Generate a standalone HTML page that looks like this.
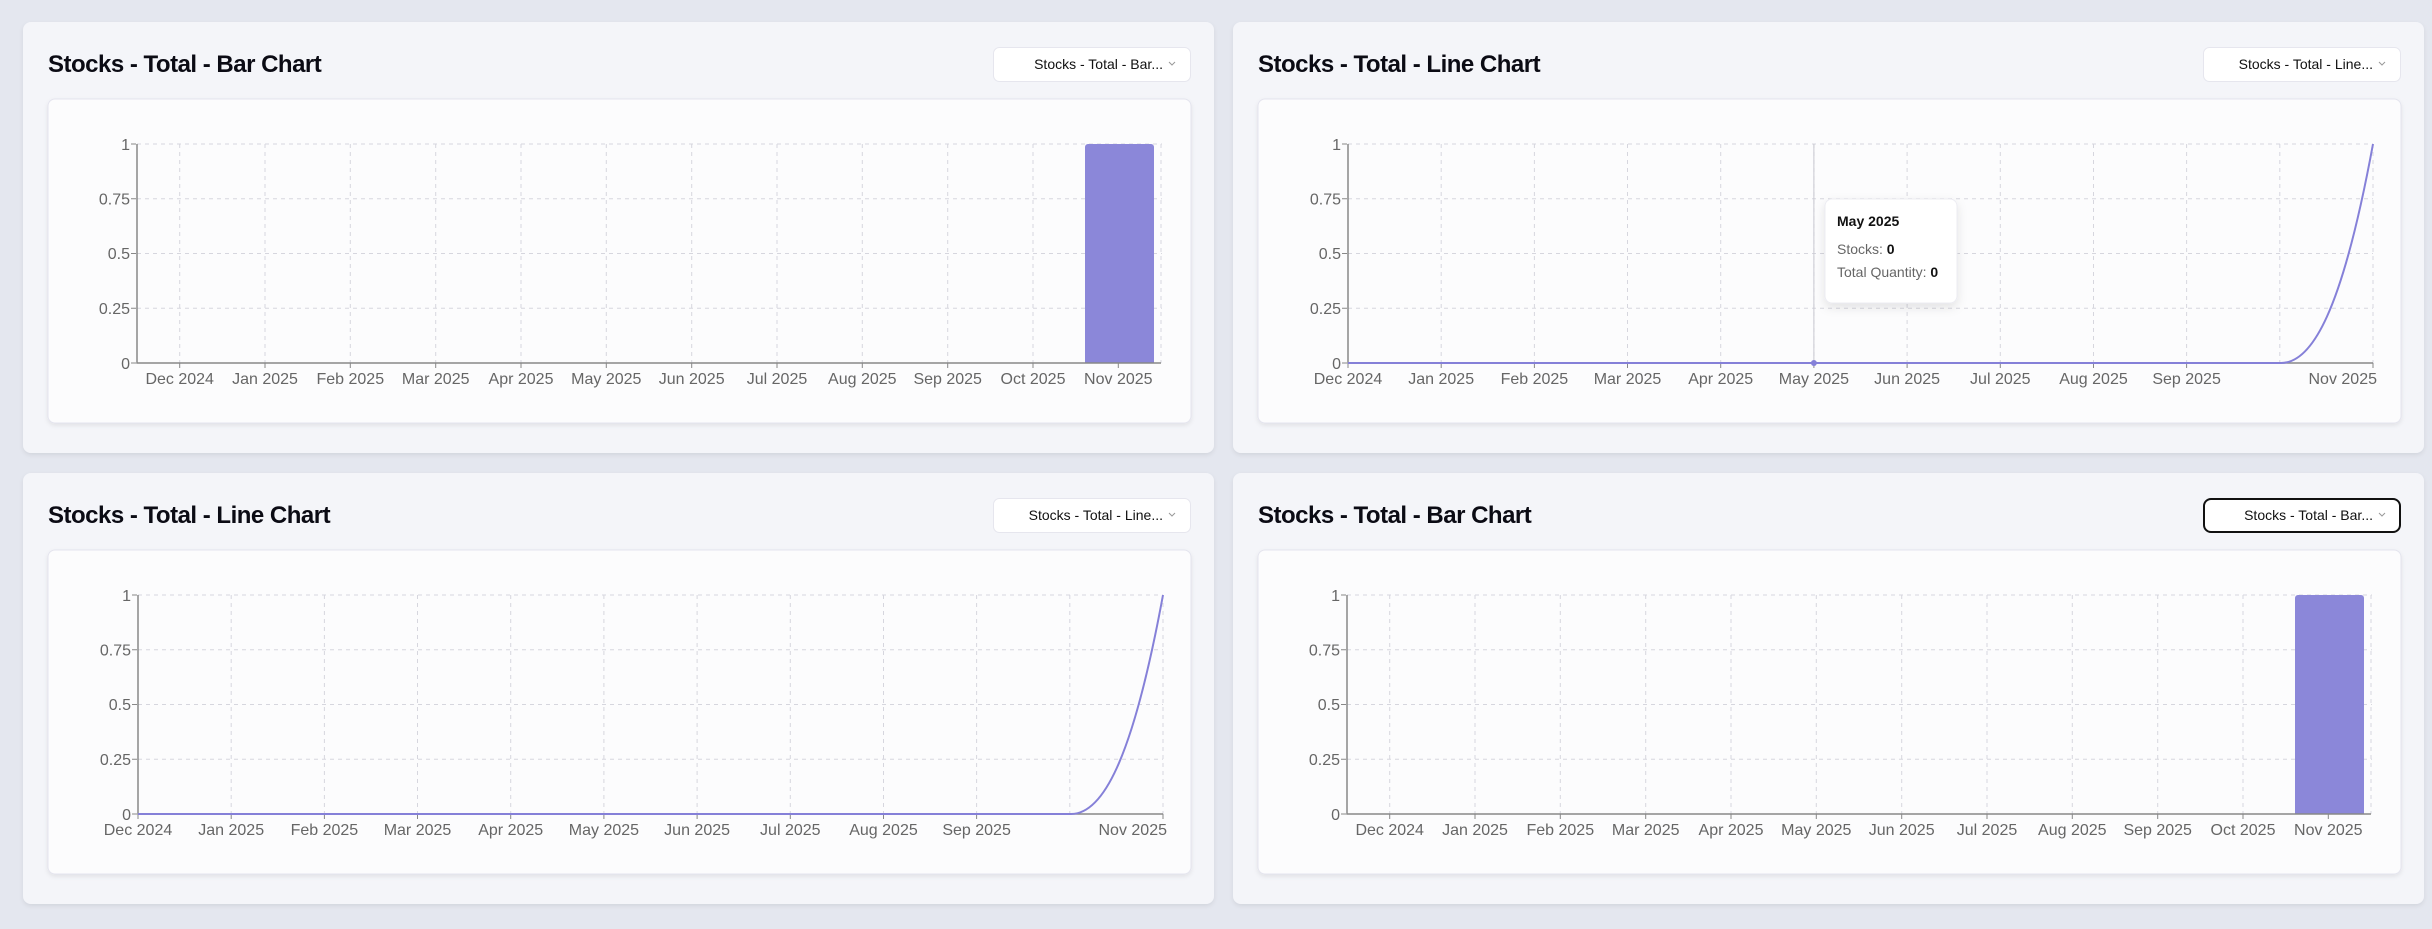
<!DOCTYPE html>
<html><head><meta charset="utf-8"><style>
html,body{margin:0;padding:0;background:#e4e7ef;}
svg{display:block;font-family:"Liberation Sans",sans-serif;}
.title{font-size:24px;font-weight:bold;fill:#0b0b14;letter-spacing:-0.5px}
.dd{font-size:14px;fill:#111}
.tk{font-size:16px;fill:#666}
.grid{stroke:#d6d6de;stroke-width:1;stroke-dasharray:4 4;fill:none}
.ax{stroke:#888;stroke-width:1.5;fill:none}
</style></head><body>
<svg width="2432" height="929" viewBox="0 0 2432 929" xmlns="http://www.w3.org/2000/svg">
<defs>
<filter id="sh" x="-5%" y="-5%" width="110%" height="115%"><feDropShadow dx="0" dy="2" stdDeviation="2" flood-color="#000" flood-opacity="0.08"/></filter>
<filter id="sh2" x="-20%" y="-20%" width="140%" height="150%"><feDropShadow dx="0" dy="4" stdDeviation="5" flood-color="#000" flood-opacity="0.1"/></filter>
<g id="frame">
<rect x="0" y="0" width="1191" height="431" rx="8" fill="#f4f5f9" filter="url(#sh)"/>
<rect x="25" y="77" width="1143" height="324" rx="7" fill="#fcfcfd" stroke="#e4e4ee" filter="url(#sh)"/>
</g>
<g id="yt">
<path class="grid" d="M115 122H1140M115 176.75H1140M115 231.5H1140M115 286.25H1140"/>
<text class="tk" text-anchor="end" x="108" y="128">1</text>
<text class="tk" text-anchor="end" x="108" y="182.5">0.75</text>
<text class="tk" text-anchor="end" x="108" y="237">0.5</text>
<text class="tk" text-anchor="end" x="108" y="292">0.25</text>
<text class="tk" text-anchor="end" x="108" y="347">0</text>
<path d="M109 122H114M109 176.75H114M109 231.5H114M109 286.25H114M109 341H114" stroke="#888"/>
</g>
<g id="bar">
<use href="#frame"/>
<use href="#yt" transform="translate(-1,0)"/>
<path class="grid" d="M156.7 122V341M242 122V341M327.3 122V341M412.7 122V341M498 122V341M583.3 122V341M668.7 122V341M754 122V341M839.3 122V341M924.7 122V341M1010 122V341M1095.3 122V341M1138 122V341"/>
<rect x="1062" y="122" width="69" height="219" rx="3" fill="#8b87d9"/>
<rect x="1062" y="330" width="69" height="11" fill="#8b87d9"/>
<path class="ax" d="M114 122V341H1138"/>
<path d="M156.7 341v5M242 341v5M327.3 341v5M412.7 341v5M498 341v5M583.3 341v5M668.7 341v5M754 341v5M839.3 341v5M924.7 341v5M1010 341v5M1095.3 341v5" stroke="#888"/>
<g class="tk" text-anchor="middle">
<text x="156.7" y="362">Dec 2024</text><text x="242" y="362">Jan 2025</text><text x="327.3" y="362">Feb 2025</text><text x="412.7" y="362">Mar 2025</text><text x="498" y="362">Apr 2025</text><text x="583.3" y="362">May 2025</text><text x="668.7" y="362">Jun 2025</text><text x="754" y="362">Jul 2025</text><text x="839.3" y="362">Aug 2025</text><text x="924.7" y="362">Sep 2025</text><text x="1010" y="362">Oct 2025</text><text x="1095.3" y="362">Nov 2025</text>
</g>
</g>
<g id="line">
<use href="#frame"/>
<use href="#yt"/>
<path class="grid" d="M208.2 122V341M301.4 122V341M394.5 122V341M487.7 122V341M580.9 122V341M674.1 122V341M767.3 122V341M860.5 122V341M953.6 122V341M1046.8 122V341M1140 122V341"/>
<path class="ax" d="M115 122V341H1140"/>
<path d="M115 341v5M208.2 341v5M301.4 341v5M394.5 341v5M487.7 341v5M580.9 341v5M674.1 341v5M767.3 341v5M860.5 341v5M953.6 341v5M1140 341v5" stroke="#888"/>
<path d="M115 341H1048C1079 341 1109 290 1140 122" stroke="#8580d8" stroke-width="2" fill="none"/>
<g class="tk" text-anchor="middle">
<text x="115" y="362">Dec 2024</text><text x="208.2" y="362">Jan 2025</text><text x="301.4" y="362">Feb 2025</text><text x="394.5" y="362">Mar 2025</text><text x="487.7" y="362">Apr 2025</text><text x="580.9" y="362">May 2025</text><text x="674.1" y="362">Jun 2025</text><text x="767.3" y="362">Jul 2025</text><text x="860.5" y="362">Aug 2025</text><text x="953.6" y="362">Sep 2025</text><text x="1144" y="362" text-anchor="end">Nov 2025</text>
</g>
</g>
</defs>

<g transform="translate(23,22)">
<use href="#bar"/>
<text class="title" x="25" y="50">Stocks - Total - Bar Chart</text>
<rect x="970.5" y="25.5" width="197" height="34" rx="6" fill="#fff" stroke="#e6e6ee"/>
<text class="dd" x="1140" y="47" text-anchor="end">Stocks - Total - Bar...</text>
<path d="M1146 40l3 3 3-3" stroke="#999" fill="none"/>
</g>

<g transform="translate(1233,22)">
<use href="#line"/>
<text class="title" x="25" y="50">Stocks - Total - Line Chart</text>
<rect x="970.5" y="25.5" width="197" height="34" rx="6" fill="#fff" stroke="#e6e6ee"/>
<text class="dd" x="1140" y="47" text-anchor="end">Stocks - Total - Line...</text>
<path d="M1146 40l3 3 3-3" stroke="#999" fill="none"/>
<path d="M580.9 122V341" stroke="#c8c8d0" stroke-width="1"/>
<circle cx="580.9" cy="341" r="3" fill="#8580d8"/>
<rect x="592" y="177" width="132" height="104" rx="7" fill="#fff" stroke="#ececf2" filter="url(#sh2)"/>
<text x="604" y="204" font-size="14" font-weight="bold" fill="#111">May 2025</text>
<text x="604" y="232" font-size="14" fill="#666">Stocks: <tspan fill="#111" font-weight="bold">0</tspan></text>
<text x="604" y="255" font-size="14" fill="#666">Total Quantity: <tspan fill="#111" font-weight="bold">0</tspan></text>
</g>

<g transform="translate(23,473)">
<use href="#line"/>
<text class="title" x="25" y="50">Stocks - Total - Line Chart</text>
<rect x="970.5" y="25.5" width="197" height="34" rx="6" fill="#fff" stroke="#e6e6ee"/>
<text class="dd" x="1140" y="47" text-anchor="end">Stocks - Total - Line...</text>
<path d="M1146 40l3 3 3-3" stroke="#999" fill="none"/>
</g>

<g transform="translate(1233,473)">
<use href="#bar"/>
<text class="title" x="25" y="50">Stocks - Total - Bar Chart</text>
<rect x="971" y="26" width="196" height="33" rx="7" fill="#fff" stroke="#111" stroke-width="2"/>
<text class="dd" x="1140" y="47" text-anchor="end">Stocks - Total - Bar...</text>
<path d="M1146 40l3 3 3-3" stroke="#999" fill="none"/>
</g>
</svg>
</body></html>
